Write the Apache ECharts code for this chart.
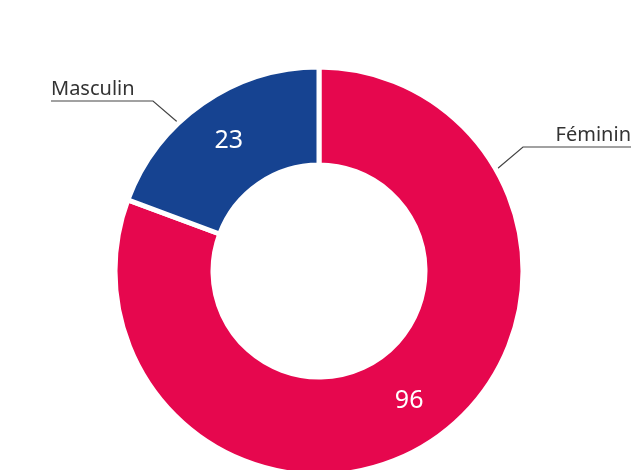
<!DOCTYPE html>
<html>
<head>
<meta charset="utf-8">
<script src="https://cdn.jsdelivr.net/npm/echarts@6/dist/echarts.min.js"></script>
<style>
  html, body {margin: 0; padding: 0; background: #fff;}
  #main {width: 632px; height: 470px;}
</style>
</head>
<body>
<div id="main"></div>
<script>
// données
const categories = ['Féminin', 'Masculin']
const values = [96, 23]
const colors = ['#e6074e', '#164391']

// géométrie de l'anneau
const cx = 319, cy = 271
const rIn = 106, rOut = 204

// lignes de rappel : angle de départ sur l'anneau, coude, fin de ligne
const leaders = [
  {angle: 29.6, elbow: [523, 147], endX: 631, align: 'right'},
  {angle: 133.4, elbow: [153, 101], endX: 51, align: 'left'}
]

const myChart = echarts.init(document.getElementById('main'))

const pieData = categories.map((name, i) => ({
  name: name,
  value: values[i],
  itemStyle: {color: colors[i]}
}))

const option = {
  animation: false,
  series: [
    {
      type: 'pie',
      center: [cx, cy],
      radius: [rIn, rOut],
      startAngle: 90,
      clockwise: true,
      silent: true,
      itemStyle: {borderColor: '#fff', borderWidth: 5},
      label: {
        position: 'inside',
        formatter: '{c}',
        color: '#fff',
        fontSize: 25,
        fontFamily: 'Noto Sans'
      },
      labelLine: {show: false},
      data: pieData
    },
    {
      type: 'pie',
      center: [cx, cy],
      radius: [rIn, rOut],
      startAngle: 90,
      clockwise: true,
      silent: true,
      itemStyle: {color: 'transparent', borderWidth: 0},
      label: {
        position: 'outside',
        formatter: '{b}',
        color: '#333',
        fontSize: 20,
        fontFamily: 'Noto Sans'
      },
      labelLine: {show: true, lineStyle: {color: '#444', width: 1.2}},
      labelLayout: function (params) {
        const l = leaders[params.dataIndex]
        const a = l.angle * Math.PI / 180
        const r = rOut - 3
        const start = [cx + r * Math.cos(a), cy - r * Math.sin(a)]
        return {
          x: l.endX,
          y: l.elbow[1] - 2,
          align: l.align,
          verticalAlign: 'bottom',
          labelLinePoints: [start, l.elbow, [l.endX, l.elbow[1]]]
        }
      },
      data: categories.map((name, i) => ({name: name, value: values[i]}))
    }
  ]
}

myChart.setOption(option)
</script>
</body>
</html>
